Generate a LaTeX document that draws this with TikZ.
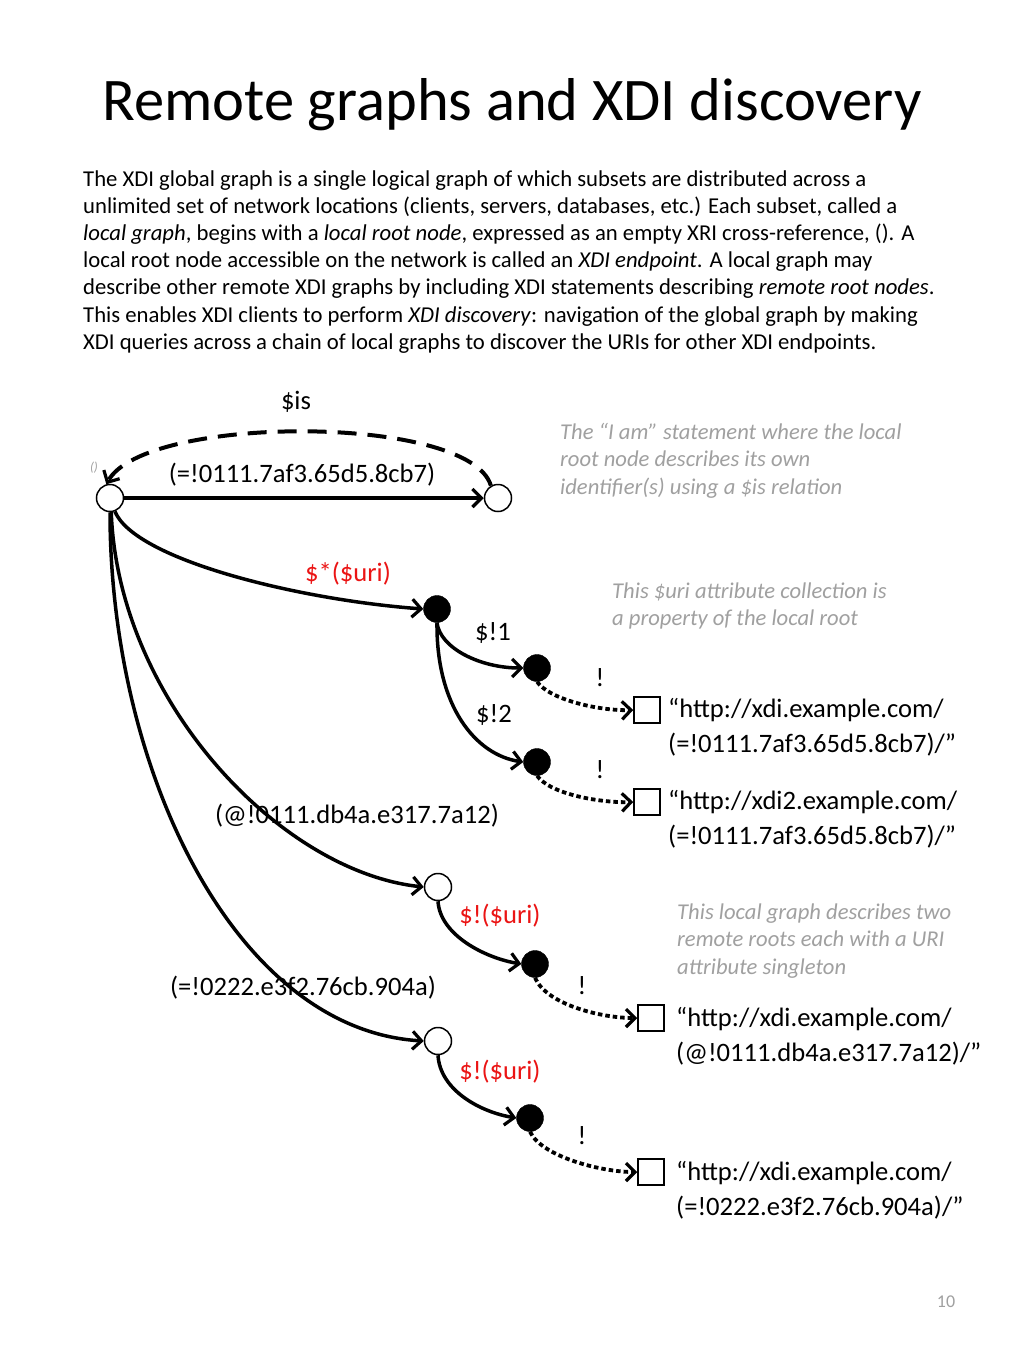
\documentclass[tikz,border=0pt]{standalone}
\usepackage{fontspec}
\setmainfont{Carlito}
\usetikzlibrary{arrows.meta}
\definecolor{cmt}{RGB}{160,160,160}
\definecolor{lblred}{RGB}{235,20,20}
\begin{document}
\begin{tikzpicture}[x=1pt,y=-1pt,
 onode/.style={circle,draw,line width=1.5pt,minimum size=27pt,inner sep=0pt,fill=white},
 fnode/.style={circle,draw,fill=black,minimum size=27pt,inner sep=0pt},
 lit/.style={rectangle,draw,line width=1.5pt,minimum size=26pt,inner sep=0pt},
 tipx/.style={-{Straight Barb[length=9pt,width=18pt,line width=3.2pt]}},
 rel/.style={line width=3.5pt,tipx},
 dotrel/.style={line width=3.8pt,dash pattern=on 4.5pt off 3pt,tipx},
 isrel/.style={line width=4pt,dash pattern=on 19pt off 11pt,tipx},
 lbl/.style={font=\fontsize{26.6}{35}\selectfont,inner sep=0pt},
 redlbl/.style={lbl,text=lblred},
 body/.style={font=\fontsize{22.7}{27.2}\selectfont,inner sep=0pt,anchor=base west},
 cmtx/.style={font=\fontsize{22.6}{27.5}\selectfont\itshape,text=cmt,inner sep=0pt,anchor=west,align=left},
 littext/.style={lbl,anchor=west,align=left}
]
\useasboundingbox[fill=white] (0,0) rectangle (1024,1365);

% title
\node[font=\fontsize{60.5}{70}\selectfont,inner sep=0pt,anchor=base] (title) at (512,120) {Remote graphs and XDI discovery};

% paragraph
\node[body] (p1) at (83,186) {The XDI global graph is a single logical graph of which subsets are distributed across a};
\node[body] (p2) at (83,213.2) {unlimited set of network locations (clients, servers, databases, etc.) Each subset, called a};
\node[body] (p3) at (83,240.4) {\textit{local graph}, begins with a \textit{local root node}, expressed as an empty XRI cross-reference, (). A};
\node[body] (p4) at (83,267.6) {local root node accessible on the network is called an \textit{XDI endpoint}. A local graph may};
\node[body] (p5) at (83,294.8) {describe other remote XDI graphs by including XDI statements describing \textit{remote root nodes}.};
\node[body] (p6) at (83,322) {This enables XDI clients to perform \textit{XDI discovery}: navigation of the global graph by making};
\node[body] (p7) at (83,349.2) {XDI queries across a chain of local graphs to discover the URIs for other XDI endpoints.};

% nodes
\node[onode] (R) at (110,498) {};
\node[onode] (A) at (498,498) {};
\node[fnode] (B) at (437,609) {};
\node[fnode] (C) at (537,668) {};
\node[fnode] (D) at (537,762) {};
\node[lit] (E1) at (647,710) {};
\node[lit] (E2) at (647,802) {};
\node[onode] (F) at (438,887) {};
\node[fnode] (G) at (535,964) {};
\node[lit] (E3) at (651,1018) {};
\node[onode] (H) at (438,1041) {};
\node[fnode] (I) at (530,1118) {};
\node[lit] (E4) at (651,1172) {};

% edges
\draw[isrel] (A.120) .. controls (470,414) and (145,414) .. (R.105);
\draw[rel] (R.east) -- (A.west);
\draw[rel] (R.-70) .. controls (135,560) and (300,600) .. (B.west);
\draw[rel] (R.-85) .. controls (118,700) and (280,872) .. (F.west);
\draw[rel] (R.-90) .. controls (110,770) and (235,1030) .. (H.west);
\draw[rel] (B.south) .. controls (440,648) and (480,668) .. (C.west);
\draw[rel] (B.south) .. controls (436,705) and (475,755) .. (D.west);
\draw[rel] (F.south) .. controls (440,935) and (485,958) .. (G.west);
\draw[rel] (H.south) .. controls (440,1090) and (480,1112) .. (I.west);
\draw[dotrel] (C.south) .. controls (550,700) and (600,711) .. (E1.west);
\draw[dotrel] (D.south) .. controls (550,794) and (600,803) .. (E2.west);
\draw[dotrel] (G.south) .. controls (546,1004) and (600,1018) .. (E3.west);
\draw[dotrel] (I.south) .. controls (541,1156) and (600,1172) .. (E4.west);

% labels
\node[lbl] (lis) at (296,402) {\$is};
\node[font=\fontsize{13}{14}\selectfont\itshape,text=cmt,inner sep=0pt] (lroot) at (94,468) {()};
\node[lbl] (lid) at (302,475) {(=!0111.7af3.65d5.8cb7)};
\node[redlbl] (luri) at (348,574) {\$*(\$uri)};
\node[lbl] (l1) at (493,633) {\$!1};
\node[lbl] (l2) at (494,715) {\$!2};
\node[lbl] (x1) at (600,678) {!};
\node[lbl] (x2) at (600,770) {!};
\node[lbl] (lat) at (357,816) {(@!0111.db4a.e317.7a12)};
\node[redlbl] (lu2) at (500,916) {\$!(\$uri)};
\node[lbl] (leq) at (303,988) {(=!0222.e3f2.76cb.904a)};
\node[lbl] (x3) at (582,986) {!};
\node[redlbl] (lu3) at (500,1072) {\$!(\$uri)};
\node[lbl] (x4) at (582,1136) {!};

\node[littext] (t1) at (668,727.5) {“http://xdi.example.com/\\(=!0111.7af3.65d5.8cb7)/”};
\node[littext] (t2) at (668,819.5) {“http://xdi2.example.com/\\(=!0111.7af3.65d5.8cb7)/”};
\node[littext] (t3) at (676,1036.5) {“http://xdi.example.com/\\(@!0111.db4a.e317.7a12)/”};
\node[littext] (t4) at (676,1190) {“http://xdi.example.com/\\(=!0222.e3f2.76cb.904a)/”};

% comments
\node[cmtx] (c1) at (560,460.5) {The “I am” statement where the local\\root node describes its own\\identifier(s) using a \$is relation};
\node[cmtx] (c2) at (612,606) {This \$uri attribute collection is\\a property of the local root};
\node[cmtx] (c3) at (677,941) {This local graph describes two\\remote roots each with a URI\\attribute singleton};

\node[font=\fontsize{18}{20}\selectfont,text=cmt,inner sep=0pt] (pg) at (946,1302) {10};
\end{tikzpicture}
\end{document}
